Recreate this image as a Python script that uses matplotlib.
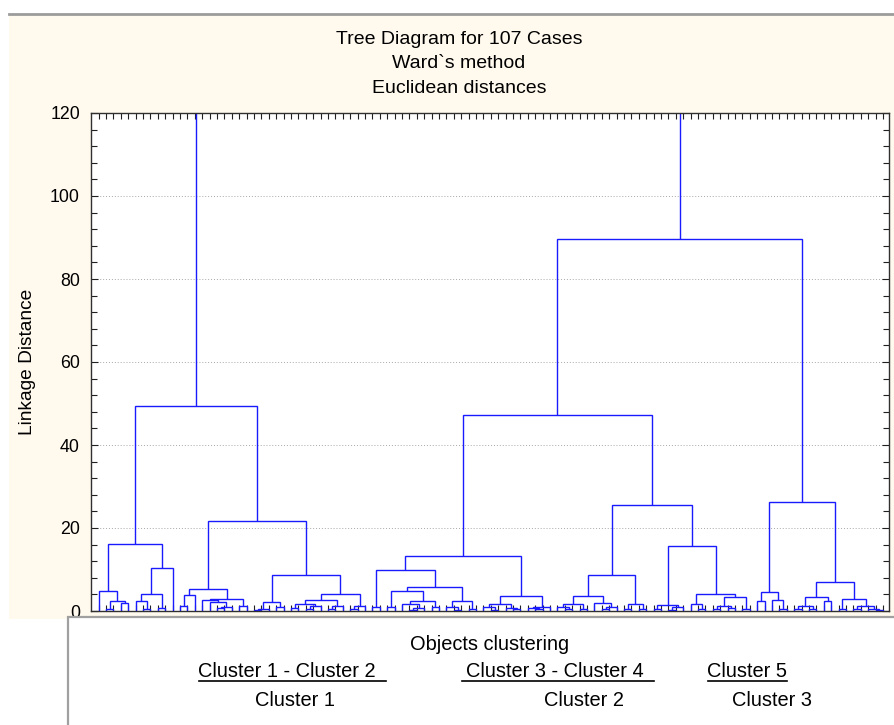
import matplotlib
matplotlib.use("Agg")
import matplotlib.pyplot as plt
from matplotlib import font_manager
from matplotlib.lines import Line2D
from matplotlib.patches import Rectangle
from matplotlib.ticker import MultipleLocator

# tree nodes are (left, right, linkage distance); plain ints are case numbers
cl_a = ((1, ((2, 3, 0.6), (4, 5, 1.9), 2.5), 4.7),
        (((6, (7, 8, 0.5), 2.3), (9, 10, 0.8), 4.0), 11, 10.4),
        16.2)
cl_b = ((((12, 13, 1.2), 14, 3.9),
         ((15, (16, ((17, 18, 0.8), 19, 1.0), 2.2), 2.6), (20, 21, 1.2), 2.9),
         5.3),
        ((((22, 23, 0.2), 24, 0.6), (25, 26, 1.0), 2.1),
         ((((27, 28, 0.8), ((29, 30, 0.5), 31, 1.3), 1.6),
           ((32, 33, 0.5), 34, 1.3), 2.7),
          ((35, 36, 0.4), 37, 1.2), 4.0),
         8.6),
        21.7)
cl_c1 = (((38, 39, 1.0),
          (((40, 41, 0.9),
            ((42, ((43, 44, 0.3), 45, 0.8), 1.7), (46, 47, 1.0), 2.5), 4.7),
           ((48, (49, 50, 0.2), 1.0), (51, 52, 0.6), 2.4), 5.9),
          9.8),
         (((53, (54, 55, 0.3), 0.9), (56, (57, 58, 0.4), 0.7), 1.6),
          ((59, (60, 61, 0.4), 0.8), 62, 1.0), 3.5),
         13.2)
cl_c2 = (((((63, (64, 65, 0.4), 1.0), (66, 67, 0.5), 1.7),
           (68, ((69, 70, 0.4), 71, 1.0), 1.9), 3.7),
          ((72, 73, 0.6), (74, 75, 0.4), 1.6), 8.7),
         (((76, 77, 0.6), ((78, 79, 0.3), 80, 0.9), 1.5),
          ((81, (82, 83, 0.6), 1.6),
           (((84, 85, 0.6), (86, 87, 0.8), 1.3), (88, 89, 0.5), 3.3), 4.0),
          15.7),
         25.5)
cl_d = (((90, 91, 2.3), (92, (93, 94, 0.5), 2.7), 4.5),
        ((((95, 96, 0.5), (97, 98, 0.6), 1.3), (99, 100, 2.3), 3.3),
         ((101, 102, 0.6), ((103, 104, 0.5), (105, (106, 107, 0.3), 0.6), 1.2), 2.9),
         6.9),
        26.3)

group_12 = (cl_a, cl_b, 49.4)
group_34 = (cl_c1, cl_c2, 47.2)
group_right = (group_34, cl_d, 89.6)
root = (group_12, group_right, 150.0)  # joins above the top of the axis

n_cases = 107
title_lines = ["Tree Diagram for 107 Cases", "Ward`s method", "Euclidean distances"]
pair_labels = ["Cluster 1 - Cluster 2", "Cluster 3 - Cluster 4", "Cluster 5"]
final_labels = ["Cluster 1", "Cluster 2", "Cluster 3"]

LINE = "#1a1aff"
CREAM = "#fff9ee"
W, H = 895, 725


def draw(node, ax):
    if isinstance(node, int):
        return float(node), 0.0
    left, right, h = node
    xl, hl = draw(left, ax)
    xr, hr = draw(right, ax)
    ax.plot([xl, xl, xr, xr], [hl, h, h, hr], color=LINE, lw=1.0,
            solid_joinstyle="miter", solid_capstyle="butt")
    return (xl + xr) / 2, h


def fx(px):
    return px / W


def fy(py):
    return 1 - py / H


# the bottom labels are in a narrow face; fall back to a smaller regular one
installed = {f.name for f in font_manager.fontManager.ttflist}
if "Liberation Sans Narrow" in installed:
    narrow, narrow_size = ["Liberation Sans Narrow", "DejaVu Sans"], 17
else:
    narrow, narrow_size = ["Liberation Sans", "DejaVu Sans"], 14.4

fig = plt.figure(figsize=(W / 100, H / 100), dpi=100)
fig.patch.set_facecolor("white")
plt.rcParams["font.family"] = ["Liberation Sans", "DejaVu Sans"]

# cream panel + top rule
fig.add_artist(Rectangle((fx(9), fy(619)), 1, fy(15) - fy(619), transform=fig.transFigure,
                         facecolor=CREAM, edgecolor="none", zorder=-2))
fig.add_artist(Line2D([fx(9), 1], [fy(14), fy(14)], transform=fig.transFigure,
                      color="#9c9c9c", lw=2, zorder=-1))

ax = fig.add_axes([fx(91), fy(611), fx(889) - fx(91), fy(113) - fy(611)])
ax.set_facecolor("white")
draw(root, ax)

ax.set_xlim(-0.04, 107.8)
ax.set_ylim(0, 120)
ax.set_xticks(range(1, n_cases + 1))
ax.set_yticks(range(0, 121, 20))
ax.yaxis.set_minor_locator(MultipleLocator(4))
ax.tick_params(axis="x", which="both", direction="in", top=True, bottom=True,
               length=4, width=0.8, labelbottom=False, color="#202020")
ax.tick_params(axis="y", which="major", direction="in", left=True, right=True,
               length=5, width=0.8, pad=8, labelsize=12.8, color="#202020")
ax.tick_params(axis="y", which="minor", direction="in", left=True, right=True,
               length=4, width=0.8, color="#202020")
ax.yaxis.grid(True, which="major", color="#a8a8a8", linestyle=(0, (1, 2)), lw=0.7)
ax.set_axisbelow(True)
for s in ax.spines.values():
    s.set_color("#303030")
    s.set_linewidth(1.0)

for i, t in enumerate(title_lines):
    fig.text(fx(459), fy(39 + 24.7 * i), t, ha="center", va="center", fontsize=14)
fig.text(fx(28), fy(362), "Linkage Distance", rotation=90, ha="center", va="center",
         fontsize=13.8)

# lower label box
fig.add_artist(Rectangle((fx(68), -0.1), 1, fy(617) + 0.1, transform=fig.transFigure,
                         facecolor="white", edgecolor="#a0a0a0", lw=1.6, zorder=0.5))
fig.text(fx(490), fy(650), "Objects clustering", ha="center", va="baseline",
         fontsize=narrow_size, family=narrow)
pair_x = [287, 555, 747]
line_span = [(199, 386), (462, 654), (708, 787)]
final_x = [295, 584, 772]
for lab, x in zip(pair_labels, pair_x):
    fig.text(fx(x), fy(677), lab, ha="center", va="baseline", fontsize=narrow_size,
             family=narrow)
for x0, x1 in line_span:
    fig.add_artist(Line2D([fx(x0), fx(x1)], [fy(681), fy(681)], transform=fig.transFigure,
                          color="black", lw=1.2))
for lab, x in zip(final_labels, final_x):
    fig.text(fx(x), fy(706), lab, ha="center", va="baseline", fontsize=narrow_size,
             family=narrow)

fig.savefig("out.png", dpi=100)
